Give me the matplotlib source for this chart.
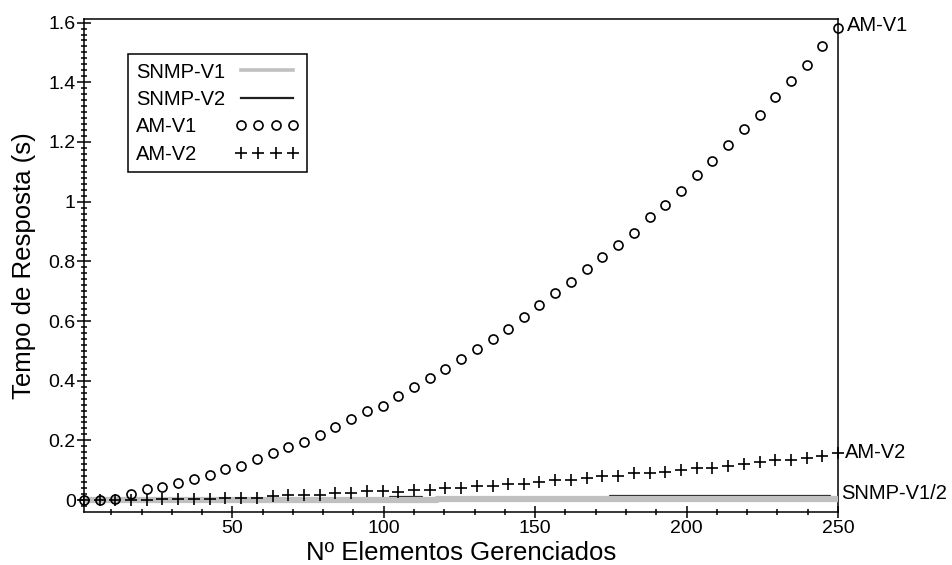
import numpy as np
import matplotlib.pyplot as plt
from matplotlib.ticker import MultipleLocator, FuncFormatter

plt.rcParams['font.family'] = ['Liberation Sans', 'DejaVu Sans']

# numero de elementos gerenciados (pontos medidos)
elementos = [1, 6.2, 11.4, 16.6, 21.8, 26.9, 32.1, 37.3, 42.5, 47.7,
             52.9, 58.1, 63.3, 68.4, 73.6, 78.8, 84.0, 89.2, 94.4, 99.6,
             104.8, 109.9, 115.1, 120.3, 125.5, 130.7, 135.9, 141.1, 146.3, 151.4,
             156.6, 161.8, 167.0, 172.2, 177.4, 182.6, 187.8, 192.9, 198.1, 203.3,
             208.5, 213.7, 218.9, 224.1, 229.3, 234.4, 239.6, 244.8, 250]

am_v1 = [0.0, 0.001, 0.004, 0.022, 0.037, 0.043, 0.058, 0.069, 0.084, 0.103,
         0.115, 0.136, 0.157, 0.179, 0.195, 0.218, 0.246, 0.272, 0.298, 0.316,
         0.350, 0.378, 0.410, 0.439, 0.472, 0.505, 0.539, 0.572, 0.612, 0.654,
         0.693, 0.732, 0.773, 0.814, 0.854, 0.896, 0.948, 0.989, 1.034, 1.090,
         1.136, 1.189, 1.244, 1.291, 1.350, 1.405, 1.458, 1.520, 1.581]

am_v2 = [0.0, 0.0, 0.0, 0.0, 0.001, 0.002, 0.002, 0.003, 0.003, 0.006,
         0.006, 0.007, 0.015, 0.017, 0.017, 0.017, 0.024, 0.025, 0.030, 0.030,
         0.028, 0.034, 0.034, 0.039, 0.041, 0.048, 0.048, 0.054, 0.054, 0.061,
         0.067, 0.067, 0.075, 0.081, 0.081, 0.090, 0.090, 0.095, 0.101, 0.106,
         0.106, 0.114, 0.121, 0.128, 0.134, 0.134, 0.140, 0.148, 0.157]

snmp_v1 = [0.001] * 23 + [0.004] * 26
snmp_v2 = [0.002] * 20 + [0.009] * 2 + [0.003] * 12 + [0.014] * 14 + [0.003]

fig = plt.figure(figsize=(9.52, 5.65), dpi=100)
ax = fig.add_axes([0.0882, 0.0943, 0.7921, 0.8721])

ax.plot(elementos, snmp_v2, color='#202020', lw=1.6, drawstyle='steps-mid',
        label='SNMP-V2', zorder=2)
ax.plot(elementos, snmp_v1, color='#c0c0c0', lw=4.5, drawstyle='steps-mid',
        label='SNMP-V1', zorder=3)
ax.plot(elementos, am_v1, ls='none', marker='o', ms=6.5, mfc='none', mec='black',
        mew=1.2, label='AM-V1', clip_on=False, zorder=4)
ax.plot(elementos, am_v2, ls='none', marker='+', ms=8, mec='black',
        mew=1.2, label='AM-V2', clip_on=False, zorder=4)

ax.set_xlim(1, 250)
ax.set_ylim(-0.039, 1.612)
ax.xaxis.set_major_locator(MultipleLocator(50))
ax.xaxis.set_minor_locator(MultipleLocator(10))
ax.yaxis.set_major_locator(MultipleLocator(0.2))
ax.yaxis.set_minor_locator(MultipleLocator(0.02))
ax.yaxis.set_major_formatter(FuncFormatter(lambda v, p: '%g' % round(v, 2)))

ax.tick_params(which='both', direction='inout', top=False, right=False,
               labelsize=14, width=1.1)
ax.tick_params(axis='y', which='major', length=10, pad=1)
ax.tick_params(axis='y', which='minor', length=5)
ax.tick_params(axis='x', which='major', length=8, pad=2)
ax.tick_params(axis='x', which='minor', length=5)
for s in ax.spines.values():
    s.set_linewidth(1.1)

ax.set_xlabel('Nº Elementos Gerenciados', fontsize=18.5, labelpad=3)
ax.set_ylabel('Tempo de Resposta (s)', fontsize=18.5, labelpad=9)

handles, labels = ax.get_legend_handles_labels()
order = [1, 0, 2, 3]
leg = ax.legend([handles[i] for i in order], [labels[i] for i in order],
                loc='upper left', bbox_to_anchor=(0.058, 0.928), borderaxespad=0,
                markerfirst=False, numpoints=4, handlelength=3.2, fontsize=14.5,
                fancybox=False, framealpha=1, edgecolor='black',
                labelspacing=0.42, borderpad=0.4, handletextpad=0.5)
leg.get_frame().set_linewidth(1.1)
leg.get_lines()[0].set_linewidth(2.6)

# texto alinhado a esquerda na legenda (marcadores a direita)
fig.canvas.draw()
r = fig.canvas.get_renderer()
widths = [t.get_window_extent(r).width for t in leg.get_texts()]
rows = leg._legend_handle_box.get_children()[0].get_children()
for row, w in zip(rows, widths):
    row.sep += (max(widths) - w) * 72 / fig.dpi

ax.annotate('AM-V1', xy=(250, am_v1[-1]), xytext=(9, 3), textcoords='offset pixels',
            va='center', ha='left', fontsize=14.5, annotation_clip=False)
ax.annotate('AM-V2', xy=(250, am_v2[-1]), xytext=(7, 1), textcoords='offset pixels',
            va='center', ha='left', fontsize=14.5, annotation_clip=False)
ax.annotate('SNMP-V1/2', xy=(250, snmp_v2[-2]), xytext=(3, 2), textcoords='offset pixels',
            va='center', ha='left', fontsize=14.5, annotation_clip=False)

fig.savefig('out.png', dpi=100)
